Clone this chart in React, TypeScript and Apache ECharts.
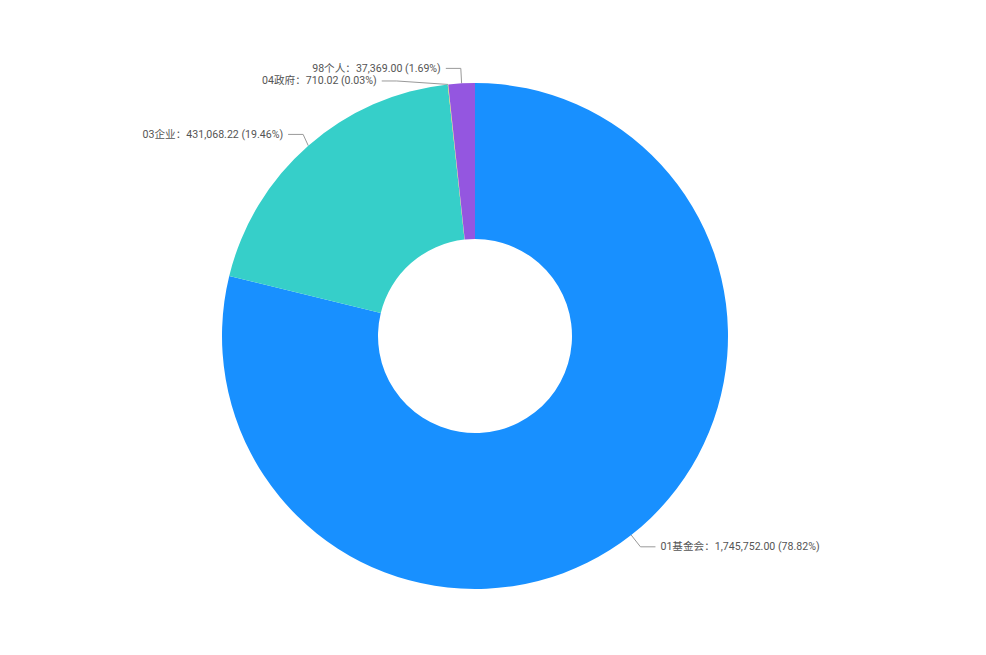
import { useEffect, useRef } from "react"
import * as echarts from "echarts"

const categories = ["01基金会", "03企业", "04政府", "98个人"]
const values = [1745752.0, 431068.22, 710.02, 37369.0]
const colors = ["#1890FF", "#36CFC9", "#FAD337", "#9456E0"]

const fmt = (v: number) =>
  v.toLocaleString("en-US", { minimumFractionDigits: 2, maximumFractionDigits: 2 })

export default function App() {
  const hostRef = useRef<HTMLDivElement>(null)

  useEffect(() => {
    const el = hostRef.current
    if (!el) return
    const chart = echarts.init(el, undefined, { renderer: "svg" })
    chart.setOption({
      animation: false,
      color: colors,
      series: [
        {
          type: "pie",
          center: [475, 336],
          radius: [97, 253],
          startAngle: 90,
          data: categories.map((name, i) => ({ name, value: values[i] })),
          label: {
            color: "#555",
            fontSize: 10.6,
            fontFamily: "Roboto, 'Noto Sans CJK SC', sans-serif",
            formatter: (p: any) => `${p.name}：${fmt(p.value)} (${p.percent.toFixed(2)}%)`,
          },
          labelLine: {
            length: 15,
            length2: 15,
            lineStyle: { color: "#999", width: 1 },
          },
          emphasis: { disabled: true },
        },
      ],
    })
    return () => chart.dispose()
  }, [])

  return (
    <div
      ref={hostRef}
      style={{ position: "absolute", left: 0, top: 0, width: 986, height: 655 }}
    />
  )
}
